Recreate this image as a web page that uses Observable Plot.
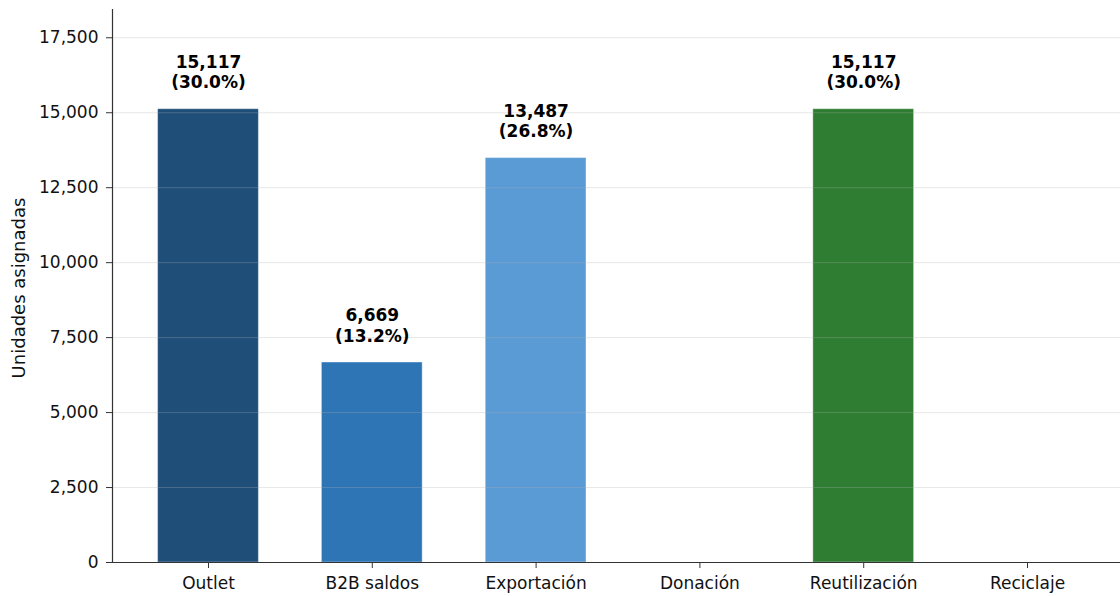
<!DOCTYPE html>
<html>
<head>
<meta charset="utf-8">
<script src="https://cdn.jsdelivr.net/npm/d3@7"></script>
<script src="https://cdn.jsdelivr.net/npm/@observablehq/plot@0.6"></script>
<style>
  html, body { margin: 0; padding: 0; background: #fff; }
  #chart svg { display: block; }
</style>
</head>
<body>
<div id="chart"></div>
<script>
// Units assigned per disposal channel
const categories = ["Outlet", "B2B saldos", "Exportación", "Donación", "Reutilización", "Reciclaje"];
const units = [15117, 6669, 13487, 0, 15117, 0];
const yTicks = [0, 2500, 5000, 7500, 10000, 12500, 15000, 17500];
const yMax = 18443;
const yTitle = "Unidades asignadas";

const channelColors = ["#1f4e79", "#2e75b6", "#5b9bd5", "#9dc3e6", "#2e7d32", "#7f7f7f"];

const total = d3.sum(units);
const rows = categories.map((c, i) => ({
  category: c,
  units: units[i],
  label: `${d3.format(",")(units[i])}\n(${d3.format(".1%")(units[i] / total)})`
}));

const chart = Plot.plot({
  width: 1120,
  height: 596,
  marginLeft: 112,
  marginRight: 0,
  marginTop: 9,
  marginBottom: 34,
  style: { fontFamily: "DejaVu Sans", fontSize: "17px", color: "#111", background: "#fff", overflow: "visible" },
  x: { domain: categories, range: [112, 1123], paddingInner: 0.385, paddingOuter: 0.2785, round: false, label: null },
  y: { domain: [0, yMax], label: null },
  color: { domain: categories, range: channelColors },
  marks: [
    Plot.barY(rows, { x: "category", y: "units", fill: "category", stroke: "white", strokeOpacity: 0.35, strokeWidth: 1 }),
    Plot.gridY(yTicks, { stroke: "#b0b0b0", strokeOpacity: 0.3, strokeWidth: 1 }),
    Plot.axisY(yTicks, { tickFormat: d3.format(","), tickSize: 6, tickPadding: 8, stroke: "#333", label: null }),
    Plot.axisX({ tickSize: 6, tickPadding: 8, stroke: "#333", label: null }),
    Plot.ruleY([0], { stroke: "#333", strokeWidth: 1.2 }),
    Plot.frame({ anchor: "left", stroke: "#333", strokeWidth: 1.2 }),
    // y-axis title
    Plot.text([yTitle], { frameAnchor: "left", textAnchor: "middle", lineAnchor: "middle", rotate: -90, dx: -93, dy: 2, fontSize: 18, fill: "#111" }),
    Plot.text(rows.filter(d => d.units > 0), {
      x: "category", y: "units", text: "label",
      fontWeight: "bold", fontSize: 17, lineAnchor: "bottom", lineHeight: 1.21, dy: -21, fill: "#000"
    })
  ]
});

document.getElementById("chart").appendChild(chart);
</script>
</body>
</html>
